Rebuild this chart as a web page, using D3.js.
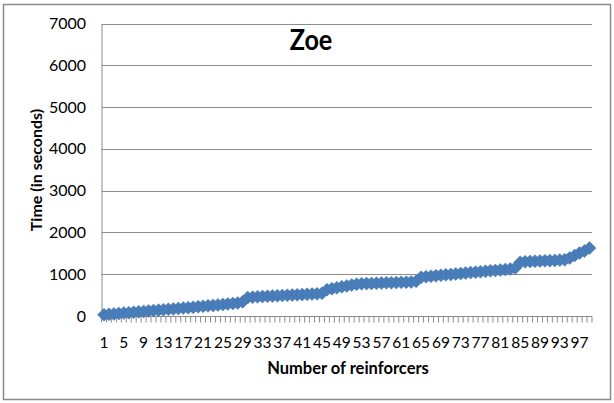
<!DOCTYPE html>
<html>
<head>
<meta charset="utf-8">
<script src="https://cdn.jsdelivr.net/npm/d3@7"></script>
<style>
    body { margin: 0; background: #fff; }
    text { font-family: Lato, "Open Sans", sans-serif; }
</style>
</head>
<body>
<svg id="chart" width="614" height="403"></svg>
<script>
// series: time (seconds) for each reinforcer 1..99
const times = [
    30, 40, 50, 60, 70, 80, 90, 100, 110, 120,
    130, 140, 150, 160, 170, 180, 190, 200, 210, 222,
    232, 243, 254, 265, 275, 287, 298, 312, 340,
    440, 450, 458, 465, 472, 478, 484, 490, 495, 500,
    506, 512, 518, 524, 530, 545,
    630, 655, 675, 700, 720, 740, 760,
    770, 775, 780, 785, 790, 793, 797, 800, 805, 810, 815, 830,
    925, 940, 952, 963, 975, 985, 995, 1005, 1015, 1028,
    1040, 1050, 1060, 1070, 1080, 1090, 1100, 1112, 1125, 1150,
    1285, 1298, 1305, 1310, 1315, 1320, 1325, 1330, 1338, 1345,
    1390, 1450, 1510, 1555, 1625
];
const categories = times.map((_d, i) => i + 1);
const xTickLabels = categories.filter(c => (c - 1) % 4 === 0);
const yTicks = [0, 1000, 2000, 3000, 4000, 5000, 6000, 7000];

const title = "Zoe";
const xTitle = "Number of reinforcers";
const yTitle = "Time (in seconds)";

const seriesColor = "#4a7ebb";
const markerStroke = "#3f70aa";
const gridColor = "#8c8c8c";

const svg = d3.select("#chart");

// chart frame
svg.append("rect")
    .attr("x", 3.5)
    .attr("y", 4.5)
    .attr("width", 607)
    .attr("height", 395)
    .attr("fill", "#fff")
    .attr("stroke", "#8a8a8a")
    .attr("stroke-width", 1.5);

const plot = { left: 101.5, right: 592, top: 23.5, bottom: 316 };

const x = d3.scaleBand()
    .domain(categories)
    .range([plot.left, plot.right])
    .padding(0);

const y = d3.scaleLinear()
    .domain([0, 7000])
    .range([plot.bottom, plot.top]);

// gridlines
svg.append("g")
    .selectAll("line")
    .data(yTicks.filter(t => t > 0))
    .join("line")
    .attr("x1", plot.left)
    .attr("x2", plot.right)
    .attr("y1", d => Math.round(y(d)) + 0.5)
    .attr("y2", d => Math.round(y(d)) + 0.5)
    .attr("stroke", gridColor)
    .attr("stroke-width", 1);

// y axis
const yAxis = svg.append("g")
    .attr("transform", `translate(${plot.left},0)`)
    .call(d3.axisLeft(y).tickValues(yTicks).tickFormat(d3.format("d")).tickSize(0).tickPadding(15.5));
yAxis.select(".domain").attr("stroke", gridColor);
yAxis.selectAll("text")
    .attr("font-size", 16)
    .attr("fill", "#000")
    .style("font-family", "Lato, sans-serif");

// x axis: tick marks between categories, labels every 4th
const xAxisG = svg.append("g")
    .attr("transform", `translate(0,${Math.round(plot.bottom) + 0.5})`);
xAxisG.append("line")
    .attr("x1", plot.left)
    .attr("x2", plot.right)
    .attr("stroke", gridColor);
xAxisG.selectAll("line.tick")
    .data(categories.concat([categories.length + 1]))
    .join("line")
    .attr("class", "tick")
    .attr("x1", d => (d <= categories.length ? x(d) : plot.right))
    .attr("x2", d => (d <= categories.length ? x(d) : plot.right))
    .attr("y1", 0)
    .attr("y2", 6)
    .attr("stroke", gridColor);
xAxisG.selectAll("text")
    .data(xTickLabels)
    .join("text")
    .attr("x", d => x(d) + x.bandwidth() / 2)
    .attr("y", 31.5)
    .attr("text-anchor", "middle")
    .attr("font-size", 15.5)
    .attr("fill", "#000")
    .text(d => d);

// series line
const line = d3.line()
    .x((_d, i) => x(categories[i]) + x.bandwidth() / 2)
    .y(d => y(d));
svg.append("path")
    .datum(times)
    .attr("d", line)
    .attr("fill", "none")
    .attr("stroke", seriesColor)
    .attr("stroke-width", 2.5);

// diamond markers
const r = 6.5;
svg.append("g")
    .selectAll("path")
    .data(times)
    .join("path")
    .attr("transform", (d, i) => `translate(${x(categories[i]) + x.bandwidth() / 2},${y(d)})`)
    .attr("d", `M0,${-r}L${r},0L0,${r}L${-r},0Z`)
    .attr("fill", seriesColor)
    .attr("stroke", markerStroke)
    .attr("stroke-width", 0.5);

// titles
svg.append("text")
    .attr("transform", "translate(311,50) scale(0.9,1)")
    .attr("text-anchor", "middle")
    .attr("font-size", 28)
    .attr("font-weight", "bold")
    .text(title);

svg.append("text")
    .attr("x", 348)
    .attr("y", 374)
    .attr("text-anchor", "middle")
    .attr("font-size", 16.5)
    .attr("font-weight", "bold")
    .text(xTitle);

svg.append("text")
    .attr("transform", "translate(42,170) rotate(-90)")
    .attr("text-anchor", "middle")
    .attr("font-size", 16)
    .attr("font-weight", "bold")
    .text(yTitle);
</script>
</body>
</html>
